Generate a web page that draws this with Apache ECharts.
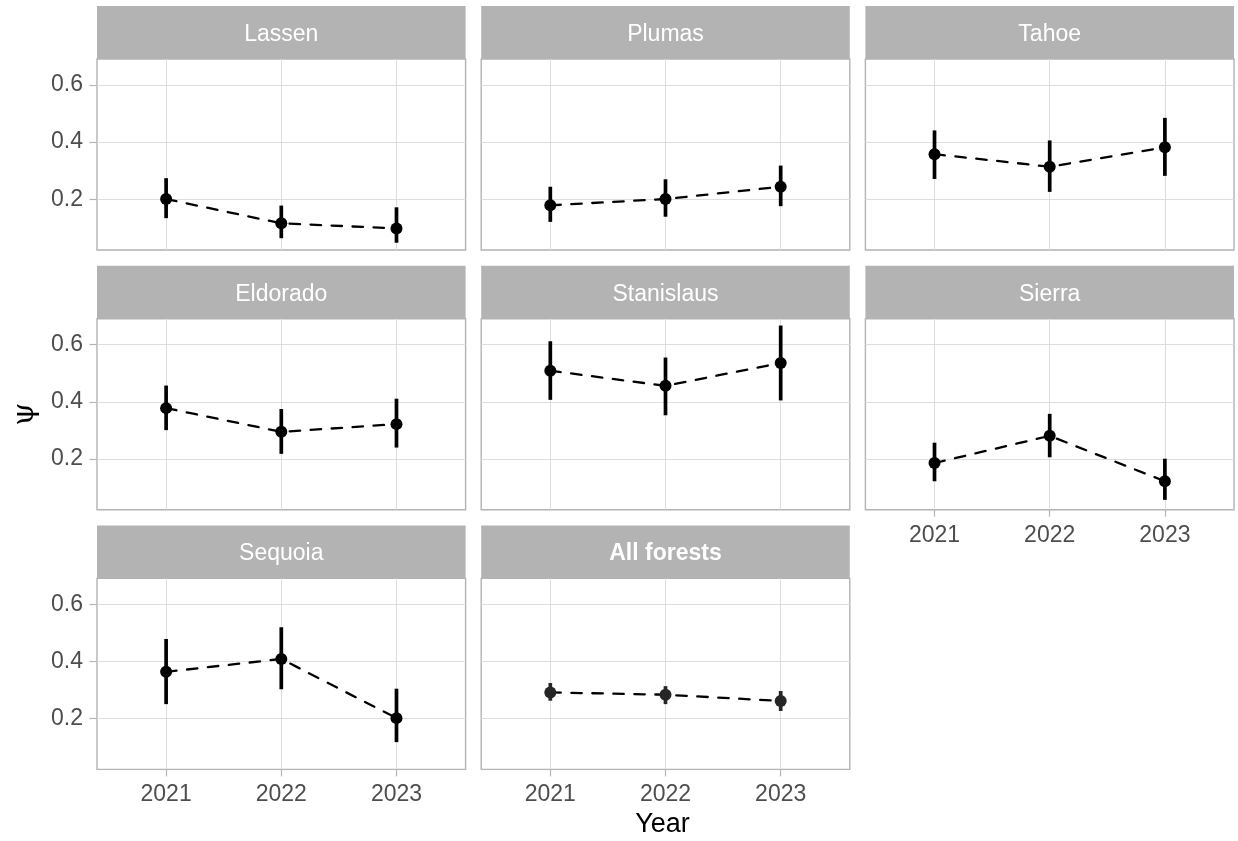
<!DOCTYPE html>
<html>
<head>
<meta charset="utf-8">
<title>Occupancy by forest and year</title>
<script src="https://cdn.jsdelivr.net/npm/echarts@6/dist/echarts.min.js"></script>
<style>
  html, body { margin: 0; padding: 0; background: #ffffff; }
  #chart { width: 1238px; height: 841px; }
</style>
</head>
<body>
<div id="chart"></div>
<script>
// Facet labels, in panel order (left to right, top to bottom)
const forests = ['Lassen', 'Plumas', 'Tahoe', 'Eldorado', 'Stanislaus', 'Sierra', 'Sequoia', 'All forests'];
// Survey years (x axis)
const years = ['2021', '2022', '2023'];
// Y tick labels
const yTicks = [0.2, 0.4, 0.6];

// Occupancy estimates (psi) per forest, one value per year
const psiEstimate = [
  [0.201, 0.116, 0.098],
  [0.179, 0.201, 0.244],
  [0.358, 0.314, 0.382],
  [0.378, 0.295, 0.322],
  [0.509, 0.456, 0.536],
  [0.186, 0.281, 0.122],
  [0.364, 0.409, 0.202],
  [0.292, 0.284, 0.262]
];
// Lower bounds of the intervals
const psiLower = [
  [0.134, 0.064, 0.048],
  [0.121, 0.139, 0.176],
  [0.271, 0.226, 0.282],
  [0.301, 0.218, 0.240],
  [0.407, 0.353, 0.405],
  [0.122, 0.206, 0.057],
  [0.251, 0.303, 0.118],
  [0.263, 0.251, 0.227]
];
// Upper bounds of the intervals
const psiUpper = [
  [0.274, 0.178, 0.172],
  [0.244, 0.270, 0.318],
  [0.441, 0.406, 0.485],
  [0.457, 0.375, 0.411],
  [0.612, 0.555, 0.667],
  [0.257, 0.358, 0.201],
  [0.479, 0.520, 0.305],
  [0.325, 0.314, 0.297]
];

// ---- facet layout ----
const NCOL = 3;
const LEFT0 = 97, COL_STEP = 384.2, PANEL_W = 368.6;
const TOP0 = 6, ROW_STEP = 259.7, STRIP_H = 53, PANEL_H = 191;
const Y_MIN = 0.0226, Y_MAX = 0.6909;
const X_PAD = 0.6;

const FONT = 'Liberation Sans, Arial, Helvetica, sans-serif';
const FONT_SIZE = 23;
const GRID_COL = '#DEDEDE';
const FRAME_COL = '#B3B3B3';
const TEXT_COL = '#4D4D4D';

const yearNums = years.map(Number);
const nRows = Math.ceil(forests.length / NCOL);

const grids = [], xAxes = [], yAxes = [], series = [], graphics = [];

forests.forEach((name, i) => {
  const col = i % NCOL, row = Math.floor(i / NCOL);
  const left = LEFT0 + col * COL_STEP;
  const stripTop = TOP0 + row * ROW_STEP;
  const top = stripTop + STRIP_H;
  // bottom panel of each column carries the x labels
  const showX = i + NCOL >= forests.length;
  const showY = col === 0;

  grids.push({
    left: left, top: top, width: PANEL_W, height: PANEL_H,
    show: true, backgroundColor: '#ffffff',
    borderColor: FRAME_COL, borderWidth: 1.4, containLabel: false
  });

  xAxes.push({
    gridIndex: i, type: 'value',
    min: yearNums[0] - X_PAD, max: yearNums[yearNums.length - 1] + X_PAD,
    axisLine: { show: false },
    axisTick: { show: showX, length: 7, customValues: yearNums, lineStyle: { color: FRAME_COL, width: 1.2 } },
    axisLabel: { show: showX, customValues: yearNums, margin: 14, color: TEXT_COL, fontSize: FONT_SIZE, fontFamily: FONT,
                 formatter: v => String(v) },
    splitLine: { show: true, lineStyle: { color: GRID_COL, width: 1 } }
  });

  yAxes.push({
    gridIndex: i, type: 'value', min: Y_MIN, max: Y_MAX,
    axisLine: { show: false },
    axisTick: { show: showY, length: 7.5, customValues: yTicks, lineStyle: { color: FRAME_COL, width: 1.2 } },
    axisLabel: { show: showY, customValues: yTicks, margin: 14, color: TEXT_COL, fontSize: FONT_SIZE, fontFamily: FONT,
                 formatter: v => v.toFixed(1) },
    splitLine: { show: true, lineStyle: { color: GRID_COL, width: 1 } }
  });

  // strip with the forest name
  graphics.push({
    type: 'rect', silent: true,
    shape: { x: left, y: stripTop, width: PANEL_W, height: STRIP_H },
    style: { fill: FRAME_COL }
  });
  graphics.push({
    type: 'text', silent: true,
    x: left + PANEL_W / 2, y: stripTop + STRIP_H / 2 + 2,
    style: {
      text: name, fill: '#ffffff', fontSize: FONT_SIZE, fontFamily: FONT,
      fontWeight: name === 'All forests' ? 'bold' : 'normal',
      align: 'center', verticalAlign: 'middle'
    }
  });

  const est = yearNums.map((y, k) => [y, psiEstimate[i][k]]);
  const ci = yearNums.map((y, k) => [y, psiLower[i][k], psiUpper[i][k]]);
  const dotColor = name === 'All forests' ? '#262626' : '#000000';

  // dashed trend line
  series.push({
    type: 'line', xAxisIndex: i, yAxisIndex: i, data: est,
    symbol: 'none', silent: true, z: 2,
    lineStyle: { color: '#000000', width: 2.3, type: [10.5, 10.5], cap: 'round' }
  });
  // interval ranges
  series.push({
    type: 'custom', xAxisIndex: i, yAxisIndex: i, data: ci, silent: true, z: 3,
    encode: { x: 0, y: [1, 2] },
    renderItem: (params, api) => {
      const x = api.value(0);
      const p1 = api.coord([x, api.value(1)]);
      const p2 = api.coord([x, api.value(2)]);
      return {
        type: 'line',
        shape: { x1: p1[0], y1: p1[1], x2: p2[0], y2: p2[1] },
        style: { stroke: dotColor, lineWidth: 3.7 }
      };
    }
  });
  // point estimates
  series.push({
    type: 'scatter', xAxisIndex: i, yAxisIndex: i, data: est, silent: true, z: 4,
    symbol: 'circle', symbolSize: 12,
    itemStyle: { color: dotColor, opacity: 1 }
  });
});

// axis titles
const panelsLeft = LEFT0;
const panelsRight = LEFT0 + (NCOL - 1) * COL_STEP + PANEL_W;
const panelsTop = TOP0 + STRIP_H;
const panelsBottom = TOP0 + (nRows - 1) * ROW_STEP + STRIP_H + PANEL_H;

graphics.push({
  type: 'text', silent: true,
  x: (panelsLeft + panelsRight) / 2 - 3, y: 825,
  style: { text: 'Year', fill: '#000000', fontSize: 27, fontFamily: FONT, align: 'center', verticalAlign: 'middle' }
});
graphics.push({
  type: 'text', silent: true,
  x: 25, y: (panelsTop + panelsBottom) / 2, rotation: Math.PI / 2,
  style: { text: 'ψ', fill: '#000000', fontSize: 29, fontFamily: 'DejaVu Serif, Liberation Serif, serif', align: 'center', verticalAlign: 'middle' }
});

const chart = echarts.init(document.getElementById('chart'), null, { renderer: 'canvas' });
chart.setOption({
  animation: false,
  backgroundColor: '#ffffff',
  grid: grids,
  xAxis: xAxes,
  yAxis: yAxes,
  series: series,
  graphic: graphics
});
</script>
</body>
</html>
